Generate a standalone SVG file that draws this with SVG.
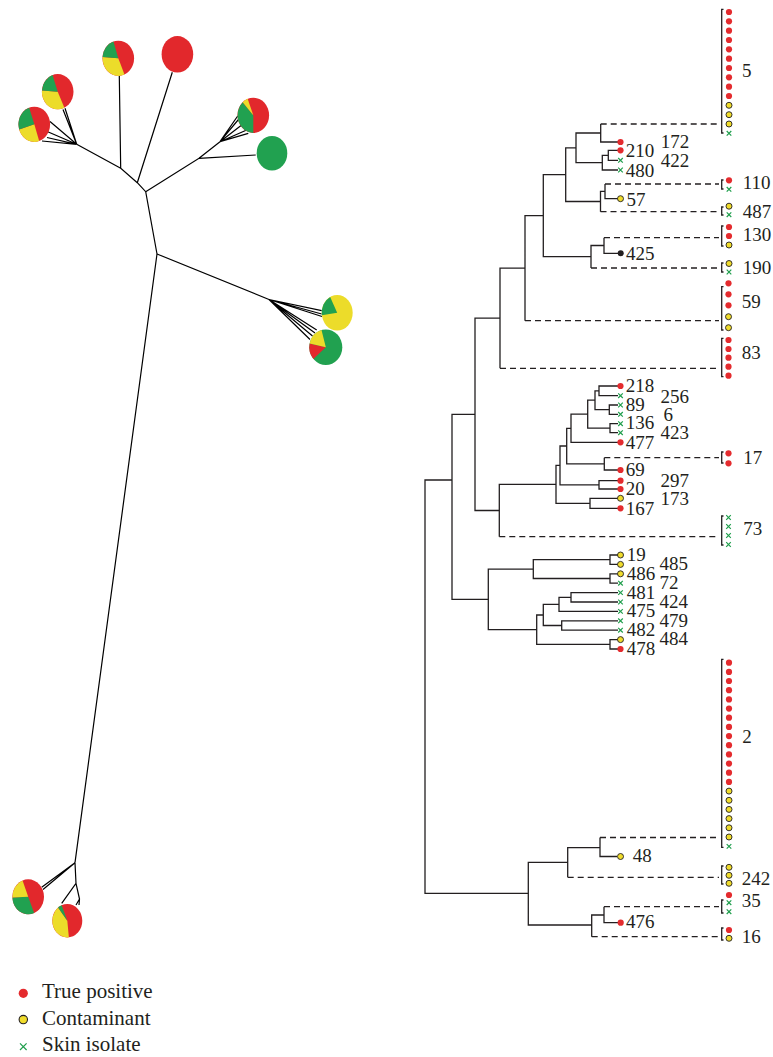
<svg xmlns="http://www.w3.org/2000/svg" xmlns:xlink="http://www.w3.org/1999/xlink" width="773" height="1057" viewBox="0 0 773 1057">
<style>
.ln{stroke:#231f20;stroke-width:1.3;fill:none}
.ds{stroke:#231f20;stroke-width:1.3;fill:none;stroke-dasharray:6 4}
.br{stroke:#231f20;stroke-width:1.3;fill:none}
.lt{stroke:#000;stroke-width:1.2;fill:none}
.tp{fill:#e42b2e}
.ct{fill:#f0dc2c;stroke:#231f20;stroke-width:0.9}
.bk{fill:#231f20}
.sk{stroke:#1f9e4c;stroke-width:1.2;fill:none}
.lb{font-family:"Liberation Serif",serif;font-size:19px;fill:#231f20}
.lg{font-family:"Liberation Serif",serif;font-size:21px;fill:#231f20}
.pr{fill:#e2282c}
.py{fill:#ecdc2a}
.pg{fill:#21a150}
</style>
<defs>
<circle id="r" r="3.1" class="tp"/>
<circle id="y" r="3" class="ct"/>
<path id="x" d="M-2.3,-2.3L2.3,2.3M2.3,-2.3L-2.3,2.3" class="sk"/>
</defs>

<!-- Left unrooted tree -->
<g id="left-tree-lines" class="lt">
<path d="M157,254L75,862.7M157,254L145.7,191.7L137.3,182.7L172.3,72.3M137.3,182.7L120.7,168.3L119.3,76M120.7,168.3L76.7,144.3"/>
<path d="M76.7,144.3L65,108.3M76.7,144.3L63,109.5M76.7,144.3L50,121.5M76.7,144.3L46,131M76.7,144.3L47,137.5M76.7,144.3L42,141"/>
<path d="M145.7,191.7L199,158.3L255.7,155M199,158.3L220,141.7"/>
<path d="M220,141.7L237.7,116M220,141.7L239.3,118.5M220,141.7L241.7,125M220,141.7L246.7,130M220,141.7L248.3,133.3"/>
<path d="M157,254L269,299.5M269,299.5L321.7,310.7M269,299.5L321.7,314M269,299.5L322,316.5M269,299.5L316.7,330M269,299.5L315,333M269,299.5L312.5,336M269,299.5L310,339.5"/>
<path d="M75,862.7L41.7,887.3M75,862.7L43,889.5M75,862.7L76,883.3L61.7,903.3M76,883.3L79.5,899L76,905M79.5,899L79,905"/>
</g>

<g id="pie1"><ellipse cx="34.3" cy="124.3" rx="15.8" ry="17.6" class="pr"/><path class="py" d="M34.3,124.3L39.18,141.04A15.8,17.6 0 0 1 19.19,129.45Z"/><path class="pg" d="M34.3,124.3L19.19,129.45A15.8,17.6 0 0 1 29.16,107.66Z"/></g>
<g id="pie2"><ellipse cx="57.7" cy="91.7" rx="15.8" ry="17.6" class="pr"/><path class="py" d="M57.7,91.7L64.38,107.65A15.8,17.6 0 0 1 41.94,90.47Z"/><path class="pg" d="M57.7,91.7L41.94,90.47A15.8,17.6 0 0 1 52.56,75.06Z"/></g>
<g id="pie3"><ellipse cx="118.3" cy="58.3" rx="15.8" ry="17.6" class="pr"/><path class="py" d="M118.3,58.3L124.47,74.5A15.8,17.6 0 0 1 102.54,57.07Z"/><path class="pg" d="M118.3,58.3L102.54,57.07A15.8,17.6 0 0 1 113.42,41.56Z"/></g>
<g id="pie4"><ellipse cx="177.4" cy="54.3" rx="15.8" ry="18.3" class="pr"/></g>
<g id="pie5"><ellipse cx="253.3" cy="115.3" rx="15.8" ry="17.6" class="pr"/><path class="pg" d="M253.3,115.3L253.3,132.9A15.8,17.6 0 0 1 242.73,102.22Z"/><path class="py" d="M253.3,115.3L242.73,102.22A15.8,17.6 0 0 1 247.64,98.87Z"/></g>
<g id="pie6"><ellipse cx="272" cy="153.3" rx="15.3" ry="17.3" class="pg"/></g>
<g id="pie7"><ellipse cx="337.2" cy="312.8" rx="15.5" ry="17.8" class="py"/><path class="pg" d="M337.2,312.8L321.85,315.28A15.5,17.8 0 0 1 330.16,296.94Z"/></g>
<g id="pie8"><ellipse cx="325.8" cy="347.2" rx="16.5" ry="17.8" class="pg"/><path class="pr" d="M325.8,347.2L313.35,358.88A16.5,17.8 0 0 1 309.66,343.5Z"/><path class="py" d="M325.8,347.2L309.66,343.5A16.5,17.8 0 0 1 321.53,330.01Z"/></g>
<g id="pie9"><ellipse cx="28.2" cy="896.8" rx="15.8" ry="17.5" class="pr"/><path class="pg" d="M28.2,896.8L34.12,913.03A15.8,17.5 0 0 1 12.41,897.41Z"/><path class="py" d="M28.2,896.8L12.41,897.41A15.8,17.5 0 0 1 22.54,880.46Z"/></g>
<g id="pie10"><ellipse cx="67.3" cy="920.7" rx="15" ry="16.7" class="pr"/><path class="py" d="M67.3,920.7L68.87,937.31A15,16.7 0 0 1 58.06,907.54Z"/><path class="pg" d="M67.3,920.7L58.06,907.54A15,16.7 0 0 1 61.68,905.22Z"/></g>

<!-- Legend -->
<g id="legend">
<circle cx="23.3" cy="993.3" r="4.6" class="tp"/>
<text x="42" y="998" class="lg">True positive</text>
<circle cx="23.3" cy="1019.6" r="4.2" class="ct" style="stroke-width:1.1"/>
<text x="42" y="1024.5" class="lg">Contaminant</text>
<path d="M20,1043.4L26.6,1050M26.6,1043.4L20,1050" class="sk"/>
<text x="42" y="1051" class="lg">Skin isolate</text>
</g>

<!-- Right tree connectors -->
<g id="connectors">
<path class="ln" d="M600.7,124V142H618M618,150.3H608.3V160.3H618M608.3,155.3H602.3V170H618M600.7,133H576V162.7H602.3M576,147.8H565.7V201.5H600.5M605,191.3H600.5V211.7M605,184V198.7H618M565.7,174.6H543.3V256.7H591M604,245.5H591V268M604,237.7V253.3H618M543.3,215.6H525V320.7M525,268.1H500V368.3M500,318.2H475V510.5H499.3"/>
<path class="ln" d="M618,386H599V395.7H618M618,405H609.3V414.3H618M599,390.8H595V409.7H609.3M618,423.7H610V432.7H618M595,400.2H587.7V428.2H610M587.7,414.2H571V442.3H618M604.3,457.7V470H618M571,428.3H566.7V463.8H604.3M618,480.7H599V489H618M566.7,446H560V484.8H599M618,498.3H590V508.3H618M560,465.4H556V503.3H590M556,484.4H499.3V536.7"/>
<path class="ln" d="M618,555H610V564.4H618M618,573.8H610V583.2H618M610,559.7H533.3V578.5H610M618,592.6H571V602H618M571,597.3H559V611.4H618M618,620.8H561.7V630.2H618M559,604.4H543.3V625.5H561.7M618,639.6H610V649H618M543.3,615H536.7V644.3H610M533.3,569.1H488.3V629.7H536.7"/>
<path class="ln" d="M475,414.4H452V599.4H488.3M452,480H425V893.3H528.3"/>
<path class="ln" d="M567.7,862.3H528.3V925H591.7M600,847.7H567.7V877.3M600,837.5V856.5H617M604,915H591.7V936.7M604,906.7V922.7H618"/>
<path class="ds" d="M600.7,124H719M605,184H719M600.5,211.7H719M604,237.7H719M591,268H719M525,320.7H719M500,368.3H719M604.3,457.7H719M499.3,536.7H719M600,837.5H719M567.7,877.3H719M604,906.7H719M591.7,936.7H719"/>
</g>

<!-- Clusters -->
<g id="cluster-5">
<path class="br" d="M723.5,9.3H721.7V133H723.5"/>
<use href="#r" x="729" y="12"/><use href="#r" x="729" y="21.3"/><use href="#r" x="729" y="30.7"/><use href="#r" x="729" y="40"/><use href="#r" x="729" y="49.3"/><use href="#r" x="729" y="58.7"/><use href="#r" x="729" y="68"/><use href="#r" x="729" y="77.3"/><use href="#r" x="729" y="86.7"/><use href="#r" x="729" y="96"/>
<use href="#y" x="729" y="105.3"/><use href="#y" x="729" y="114.7"/><use href="#y" x="729" y="124"/><use href="#x" x="729" y="133.3"/>
<text x="742" y="76.7" class="lb">5</text>
</g>
<g id="cluster-110"><path class="br" d="M723.5,180H721.7V189H723.5"/><use href="#r" x="729" y="180.3"/><use href="#x" x="729" y="189.3"/><text x="742.7" y="189.3" class="lb">110</text></g>
<g id="cluster-487"><path class="br" d="M723.5,207H721.7V215H723.5"/><use href="#y" x="729" y="206.2"/><use href="#x" x="729" y="214.7"/><text x="742.7" y="218.3" class="lb">487</text></g>
<g id="cluster-130"><path class="br" d="M723.5,226H721.7V246H723.5"/><use href="#r" x="729" y="227"/><use href="#r" x="729" y="236"/><use href="#y" x="729" y="245"/><text x="742.7" y="240.7" class="lb">130</text></g>
<g id="cluster-190"><path class="br" d="M723.5,263H721.7V272H723.5"/><use href="#y" x="729" y="263.5"/><use href="#x" x="729" y="272"/><text x="742.7" y="274" class="lb">190</text></g>
<g id="cluster-59"><path class="br" d="M723.5,286.7H721.7V330H723.5"/><use href="#r" x="728.5" y="283.3"/><use href="#r" x="728.5" y="294.3"/><use href="#r" x="728.5" y="305.3"/><use href="#y" x="728.5" y="316.7"/><use href="#y" x="728.5" y="327.7"/><text x="741.7" y="308.3" class="lb">59</text></g>
<g id="cluster-83"><path class="br" d="M723.5,338.3H721.7V376.7H723.5"/><use href="#r" x="728.5" y="340"/><use href="#r" x="728.5" y="349"/><use href="#r" x="728.5" y="357.7"/><use href="#r" x="728.5" y="366.7"/><use href="#r" x="728.5" y="375.7"/><text x="741.7" y="359.3" class="lb">83</text></g>
<g id="cluster-17"><path class="br" d="M723.5,452H721.7V463H723.5"/><use href="#r" x="728.5" y="453.3"/><use href="#r" x="728.5" y="463.3"/><text x="743.3" y="464" class="lb">17</text></g>
<g id="cluster-73"><path class="br" d="M723.5,516H721.7V545H723.5"/><use href="#x" x="728.5" y="517.5"/><use href="#x" x="728.5" y="526.5"/><use href="#x" x="728.5" y="535.5"/><use href="#x" x="728.5" y="544.5"/><text x="743.3" y="535" class="lb">73</text></g>
<g id="cluster-2">
<path class="br" d="M723.5,659.3H721.7V847.3H723.5"/>
<use href="#r" x="729" y="662.7"/><use href="#r" x="729" y="671.9"/><use href="#r" x="729" y="681"/><use href="#r" x="729" y="690.2"/><use href="#r" x="729" y="699.4"/><use href="#r" x="729" y="708.6"/><use href="#r" x="729" y="717.7"/><use href="#r" x="729" y="726.9"/><use href="#r" x="729" y="736.1"/><use href="#r" x="729" y="745.2"/><use href="#r" x="729" y="754.4"/><use href="#r" x="729" y="763.6"/><use href="#r" x="729" y="772.7"/><use href="#r" x="729" y="781.9"/>
<use href="#y" x="729" y="791.1"/><use href="#y" x="729" y="800.3"/><use href="#y" x="729" y="809.4"/><use href="#y" x="729" y="818.6"/><use href="#y" x="729" y="827.8"/><use href="#y" x="729" y="837"/><use href="#x" x="729" y="846.4"/>
<text x="742.3" y="743.3" class="lb">2</text>
</g>
<g id="cluster-242"><path class="br" d="M723.5,866H721.7V884H723.5"/><use href="#y" x="729" y="867.3"/><use href="#y" x="729" y="875.3"/><use href="#y" x="729" y="883.3"/><text x="741.7" y="885" class="lb">242</text></g>
<g id="cluster-35"><path class="br" d="M723.5,900H721.7V913H723.5"/><use href="#r" x="729" y="895"/><use href="#x" x="729" y="902.7"/><use href="#x" x="729" y="911.7"/><text x="741.7" y="907.3" class="lb">35</text></g>
<g id="cluster-16"><path class="br" d="M723.5,928H721.7V940H723.5"/><use href="#r" x="729" y="930"/><use href="#y" x="729" y="938.3"/><text x="741.7" y="943.3" class="lb">16</text></g>

<!-- Leaves -->
<g id="leaf-172"><use href="#r" x="620.5" y="142"/><text x="660.7" y="147.7" class="lb">172</text></g>
<g id="leaf-210"><use href="#r" x="620.5" y="150.3"/><text x="625.7" y="156.7" class="lb">210</text></g>
<g id="leaf-422"><use href="#x" x="620.5" y="160.3"/><text x="660.7" y="166.7" class="lb">422</text></g>
<g id="leaf-480"><use href="#x" x="620.5" y="170"/><text x="625.7" y="176.7" class="lb">480</text></g>
<g id="leaf-57"><use href="#y" x="620.5" y="198.7"/><text x="626.5" y="205.7" class="lb">57</text></g>
<g id="leaf-425"><circle cx="620.7" cy="253.3" r="3" class="bk"/><text x="626" y="260" class="lb">425</text></g>
<g id="leaf-218"><use href="#r" x="620.5" y="386"/><text x="625.7" y="391.5" class="lb">218</text></g>
<g id="leaf-256"><use href="#x" x="620.5" y="395.7"/><text x="660.5" y="402.5" class="lb">256</text></g>
<g id="leaf-89"><use href="#x" x="620.5" y="405"/><text x="625.7" y="410.5" class="lb">89</text></g>
<g id="leaf-6"><use href="#x" x="620.5" y="414.3"/><text x="663.5" y="420.7" class="lb">6</text></g>
<g id="leaf-136"><use href="#x" x="620.5" y="423.7"/><text x="625.7" y="429.3" class="lb">136</text></g>
<g id="leaf-423"><use href="#x" x="620.5" y="432.7"/><text x="660.5" y="439" class="lb">423</text></g>
<g id="leaf-477"><use href="#r" x="620.5" y="442.3"/><text x="625.7" y="448.7" class="lb">477</text></g>
<g id="leaf-69"><use href="#r" x="620.5" y="470"/><text x="625.7" y="476" class="lb">69</text></g>
<g id="leaf-297"><use href="#r" x="620.5" y="480.7"/><text x="660.5" y="486.5" class="lb">297</text></g>
<g id="leaf-20"><use href="#r" x="620.5" y="489"/><text x="625.7" y="495" class="lb">20</text></g>
<g id="leaf-173"><use href="#y" x="620.5" y="498.3"/><text x="660.5" y="505" class="lb">173</text></g>
<g id="leaf-167"><use href="#r" x="620.5" y="508.3"/><text x="625.7" y="515" class="lb">167</text></g>
<g id="leaf-19"><use href="#y" x="620.5" y="555"/><text x="626.7" y="560.5" class="lb">19</text></g>
<g id="leaf-485"><use href="#y" x="620.5" y="564.4"/><text x="659.5" y="570" class="lb">485</text></g>
<g id="leaf-486"><use href="#y" x="620.5" y="573.8"/><text x="626.7" y="579.5" class="lb">486</text></g>
<g id="leaf-72"><use href="#x" x="620.5" y="583.2"/><text x="659.5" y="589.3" class="lb">72</text></g>
<g id="leaf-481"><use href="#x" x="620.5" y="592.6"/><text x="626.7" y="598.5" class="lb">481</text></g>
<g id="leaf-424"><use href="#x" x="620.5" y="602"/><text x="659.5" y="608.3" class="lb">424</text></g>
<g id="leaf-475"><use href="#x" x="620.5" y="611.4"/><text x="626.7" y="617" class="lb">475</text></g>
<g id="leaf-479"><use href="#x" x="620.5" y="620.8"/><text x="659.5" y="626.5" class="lb">479</text></g>
<g id="leaf-482"><use href="#x" x="620.5" y="630.2"/><text x="626.7" y="636" class="lb">482</text></g>
<g id="leaf-484"><use href="#y" x="620.5" y="639.6"/><text x="659.5" y="645.3" class="lb">484</text></g>
<g id="leaf-478"><use href="#r" x="620.5" y="649"/><text x="626.7" y="655" class="lb">478</text></g>
<g id="leaf-48"><use href="#y" x="620.5" y="856.5"/><text x="632.7" y="862" class="lb">48</text></g>
<g id="leaf-476"><use href="#r" x="620.7" y="922.7"/><text x="626" y="927.5" class="lb">476</text></g>
</svg>
